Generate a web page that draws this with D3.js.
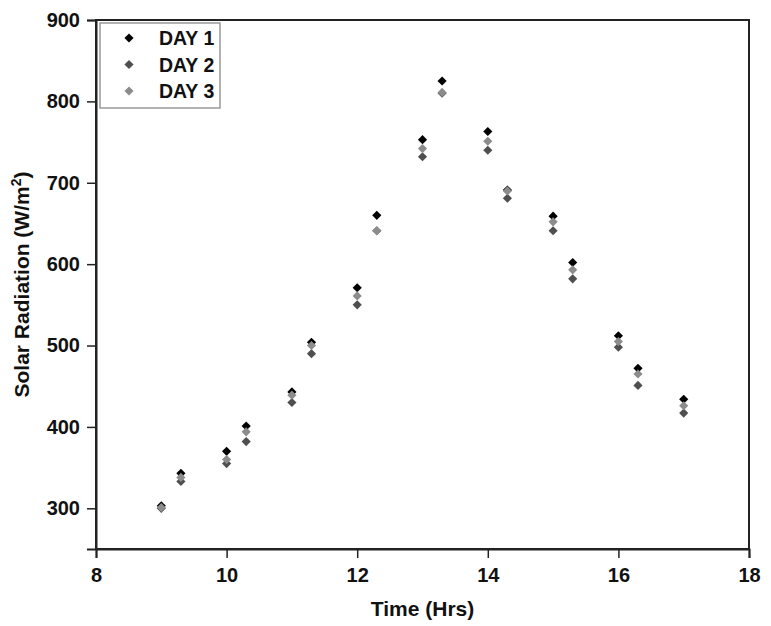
<!DOCTYPE html>
<html>
<head>
<meta charset="utf-8">
<script src="https://cdn.jsdelivr.net/npm/d3@7"></script>
<style>
  body { margin: 0; background: #fff; }
  text { font-family: "Liberation Sans", Arial, sans-serif; font-weight: bold; fill: #111; }
</style>
</head>
<body>
<div id="wrapper"></div>
<script>
async function drawChart() {

  // 1. Data

  const hours = [9, 9.3, 10, 10.3, 11, 11.3, 12, 12.3, 13, 13.3, 14, 14.3, 15, 15.3, 16, 16.3, 17]
  const day1 = [303, 343, 370, 401, 443, 504, 571, 660, 753, 825, 763, 691, 659, 602, 512, 472, 434]
  const day2 = [300, 333, 355, 382, 430, 490, 550, 641, 732, 810, 740, 681, 641, 582, 498, 451, 417]
  const day3 = [301, 338, 360, 394, 439, 500, 561, 641, 742, 811, 751, 690, 652, 593, 505, 465, 426]
  const seriesNames = ["DAY 1", "DAY 2", "DAY 3"]
  const seriesColors = ["#000000", "#4f4f4f", "#8c8c8c"]
  const xTicks = [8, 10, 12, 14, 16, 18]
  const yTicks = [300, 400, 500, 600, 700, 800, 900]

  const series = [day1, day2, day3].map((values, i) => ({
    name: seriesNames[i],
    color: seriesColors[i],
    points: values.map((v, j) => ({ x: hours[j], y: v })),
  }))

  // 2. Dimensions

  let dimensions = {
    width: 771,
    height: 626,
    margin: { top: 20, right: 22, bottom: 77, left: 96 },
  }
  dimensions.boundedWidth = dimensions.width - dimensions.margin.left - dimensions.margin.right
  dimensions.boundedHeight = dimensions.height - dimensions.margin.top - dimensions.margin.bottom

  // 3. Canvas

  const wrapper = d3.select("#wrapper")
    .append("svg")
      .attr("width", dimensions.width)
      .attr("height", dimensions.height)

  const bounds = wrapper.append("g")
      .attr("transform", `translate(${dimensions.margin.left},${dimensions.margin.top})`)

  // 4. Scales

  const xScale = d3.scaleLinear()
      .domain([8, 18])
      .range([0, dimensions.boundedWidth])

  const yScale = d3.scaleLinear()
      .domain([250, 900])
      .range([dimensions.boundedHeight, 0])

  // 5. Frame + axes

  bounds.append("rect")
      .attr("width", dimensions.boundedWidth)
      .attr("height", dimensions.boundedHeight)
      .attr("fill", "none")
      .attr("stroke", "#222")
      .attr("stroke-width", 2)

  const xAxis = bounds.append("g")
      .attr("transform", `translate(0,${dimensions.boundedHeight})`)
      .call(d3.axisBottom(xScale).tickValues(xTicks).tickSize(9).tickPadding(10).tickFormat(d3.format("d")))

  const yAxis = bounds.append("g")
      .call(d3.axisLeft(yScale).tickValues(yTicks).tickSize(9).tickPadding(7).tickFormat(d3.format("d")))

  ;[xAxis, yAxis].forEach(axis => {
    axis.select(".domain").attr("stroke", "#222").attr("stroke-width", 2)
    axis.selectAll(".tick line").attr("stroke", "#222").attr("stroke-width", 1.5)
    axis.selectAll(".tick text")
        .attr("fill", "#111")
        .style("font-family", "'Liberation Sans', Arial, sans-serif")
        .style("font-weight", "bold")
        .style("font-size", "20px")
  })

  bounds.append("text")
      .attr("x", dimensions.boundedWidth / 2)
      .attr("y", dimensions.boundedHeight + 67)
      .attr("text-anchor", "middle")
      .style("font-size", "21px")
      .text("Time (Hrs)")

  const yLabel = bounds.append("text")
      .attr("transform", `translate(-67,${dimensions.boundedHeight / 2}) rotate(-90)`)
      .attr("text-anchor", "middle")
      .style("font-size", "21px")
  yLabel.append("tspan").text("Solar Radiation (W/m")
  yLabel.append("tspan").attr("dy", -8).style("font-size", "14px").text("2")
  yLabel.append("tspan").attr("dy", 8).text(")")

  // 6. Points

  const diamond = d3.symbol().type(d3.symbolSquare).size(42)

  series.forEach(s => {
    bounds.append("g").selectAll("path")
      .data(s.points)
      .join("path")
        .attr("d", diamond)
        .attr("transform", d => `translate(${xScale(d.x)},${yScale(d.y)}) rotate(45)`)
        .attr("fill", s.color)
  })

  // 7. Legend

  const legend = bounds.append("g")
      .attr("transform", "translate(4,3)")

  legend.append("rect")
      .attr("width", 120)
      .attr("height", 85)
      .attr("fill", "#fff")
      .attr("stroke", "#999")
      .attr("stroke-width", 1.5)

  const rows = legend.selectAll(".row")
    .data(series)
    .join("g")
      .attr("transform", (d, i) => `translate(0,${15 + i * 26.5})`)

  rows.append("path")
      .attr("d", diamond)
      .attr("transform", "translate(29,0) rotate(45)")
      .attr("fill", d => d.color)

  rows.append("text")
      .attr("x", 59)
      .attr("dy", "0.36em")
      .style("font-size", "19.5px")
      .text(d => d.name)
}
drawChart()
</script>
</body>
</html>
